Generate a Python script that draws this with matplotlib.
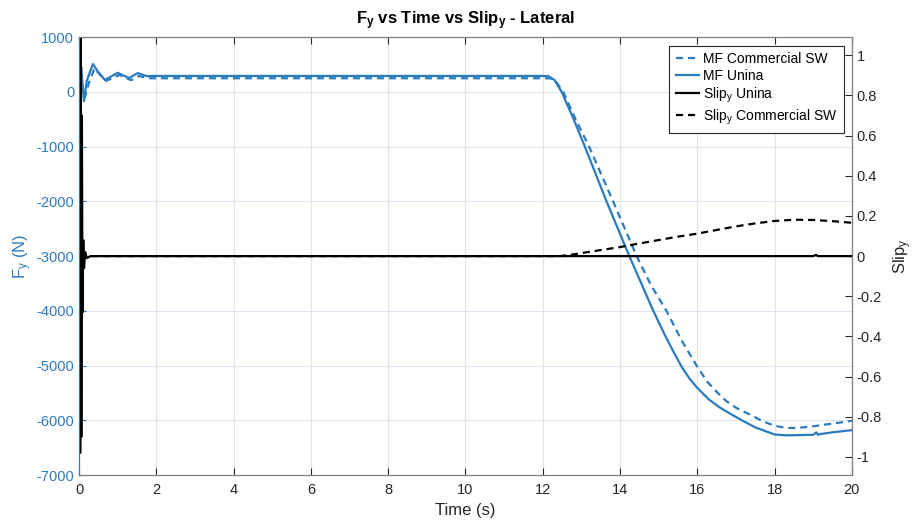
import matplotlib
matplotlib.use('Agg')
import matplotlib.pyplot as plt

plt.rcParams['font.family'] = ['Liberation Sans', 'DejaVu Sans']
plt.rcParams['font.size'] = 10
plt.rcParams['axes.unicode_minus'] = False
plt.rcParams['mathtext.default'] = 'regular'

blue = '#2a7bbf'
dark = '#262626'

# MF Unina (solid blue), left axis
t_mf_unina = [0.0, 0.02, 0.04, 0.06, 0.09, 0.13, 0.2, 0.36, 0.5, 0.67, 0.85, 1.0, 1.15, 1.3,
              1.52, 1.75, 2.0, 4.0, 8.0, 12.0, 12.14, 12.3, 12.49, 12.8, 13.09, 13.65, 14.24,
              14.86, 15.2, 15.4, 15.6, 15.8, 16.0, 16.3, 16.58, 16.9, 17.15, 17.5, 18.0, 18.3,
              19.0, 19.08, 19.12, 19.2, 19.5, 20.0]
fy_mf_unina = [0, 500, 350, 450, 150, -170, 200, 510, 360, 220, 290, 350, 300, 255,
               345, 290, 292, 292, 292, 292, 290, 220, 0, -500, -1000, -2000, -3000,
               -4000, -4500, -4770, -5030, -5240, -5410, -5620, -5766, -5900, -6000, -6130, -6260, -6275,
               -6265, -6220, -6265, -6250, -6220, -6180]

# MF Commercial SW (dashed blue), left axis
t_mf_comm = [0.0, 0.03, 0.06, 0.1, 0.15, 0.25, 0.4, 0.55, 0.7, 0.88, 1.05, 1.2, 1.35,
             1.55, 1.8, 2.1, 4.0, 8.0, 12.0, 12.2, 12.35, 12.53, 12.85, 13.2, 13.82, 14.43,
             14.8, 15.2, 15.6, 15.98, 16.25, 16.5, 16.75, 17.0, 17.4, 17.7, 18.0, 18.3, 18.6,
             19.0, 19.5, 20.0]
fy_mf_comm = [0, 400, 250, 50, -100, 150, 430, 310, 200, 260, 310, 260, 215,
              290, 250, 250, 250, 250, 250, 248, 180, 0, -500, -1000, -2000, -3000,
              -3530, -4000, -4550, -5000, -5290, -5480, -5650, -5770, -5910, -6020, -6100, -6140, -6140,
              -6110, -6060, -6010]

# Slip_y Unina (solid black), right axis
t_slip_unina = [0.0, 0.015, 0.03, 0.045, 0.06, 0.075, 0.09, 0.11, 0.13, 0.16, 0.2, 0.3,
                1.0, 12.0, 19.0, 19.07, 19.12, 20.0]
slip_unina = [0.0, 1.2, -0.98, 1.2, -0.9, 0.7, -0.28, 0.08, -0.06, 0.02, -0.01, 0.0,
              0.0, 0.0, 0.0, 0.006, 0.0, 0.0]

# Slip_y Commercial SW (dashed black), right axis
t_slip_comm = [0.0, 4.0, 8.0, 12.0, 12.45, 12.7, 13.0, 13.5, 14.0, 14.5, 15.0, 15.5,
               16.0, 16.5, 17.0, 17.5, 18.0, 18.5, 19.0, 19.5, 20.0]
slip_comm = [0.0, 0.0, 0.0, 0.0, 0.0, 0.006, 0.015, 0.03, 0.045, 0.063, 0.08, 0.097,
             0.112, 0.13, 0.148, 0.163, 0.175, 0.181, 0.18, 0.174, 0.166]

fig = plt.figure(figsize=(9.24, 5.24), dpi=100)
ax1 = fig.add_axes([0.0855, 0.0935, 0.8365, 0.8355])
ax2 = ax1.twinx()

dash = (0, (3.2, 2.2))
l1, = ax1.plot(t_mf_comm, fy_mf_comm, color=blue, lw=1.6, linestyle=dash, label='MF Commercial SW')
l2, = ax1.plot(t_mf_unina, fy_mf_unina, color=blue, lw=1.6, label='MF Unina')
l3, = ax2.plot(t_slip_unina, slip_unina, color='black', lw=1.6, label='Slip$_y$ Unina')
l4, = ax2.plot(t_slip_comm, slip_comm, color='black', lw=1.6, linestyle=dash, label='Slip$_y$ Commercial SW')

ax1.set_xlim(0, 20)
ax1.set_ylim(-7000, 1000)
ax1.set_xticks(range(0, 21, 2))
ax1.set_yticks(range(-7000, 1001, 1000))
ax2.set_ylim(-1.09, 1.09)
ax2.set_yticks([-1, -0.8, -0.6, -0.4, -0.2, 0, 0.2, 0.4, 0.6, 0.8, 1])
ax2.set_yticklabels(['-1', '-0.8', '-0.6', '-0.4', '-0.2', '0', '0.2', '0.4', '0.6', '0.8', '1'])

ax1.grid(True, axis='x', color='#e2e2e2', lw=0.8)
ax1.grid(True, axis='y', color='#dae7f2', lw=0.8)
ax1.tick_params(axis='x', direction='in', top=True, colors=dark, labelsize=10.5, length=5, pad=6)
ax1.tick_params(axis='y', direction='in', colors=blue, labelsize=10.5, length=5)
ax2.tick_params(axis='y', direction='in', colors=dark, labelsize=10.5, length=5)
for s in ['top', 'bottom']:
    ax1.spines[s].set_color('#808080')
    ax2.spines[s].set_color('#808080')
ax1.spines['left'].set_color(blue)
ax2.spines['left'].set_color(blue)
ax2.spines['right'].set_color('#808080')

ax1.set_xlabel('Time (s)', fontsize=12, color=dark, labelpad=4)
ax1.set_ylabel('F$_y$ (N)', fontsize=12, color=blue, labelpad=2)
ax2.set_ylabel('Slip$_y$', fontsize=12, color=dark, labelpad=7)
ax1.set_title('F$_y$ vs Time vs Slip$_y$ - Lateral', fontsize=12, fontweight='bold', color='black', pad=9)

leg = ax2.legend(handles=[l1, l2, l3, l4], loc='upper right', fancybox=False, framealpha=1,
                 edgecolor=dark, fontsize=10, borderaxespad=0.6, handlelength=1.7,
                 handletextpad=0.25, labelspacing=0.2, borderpad=0.45)
leg.get_frame().set_linewidth(0.8)

plt.savefig('out.png', dpi=100)
